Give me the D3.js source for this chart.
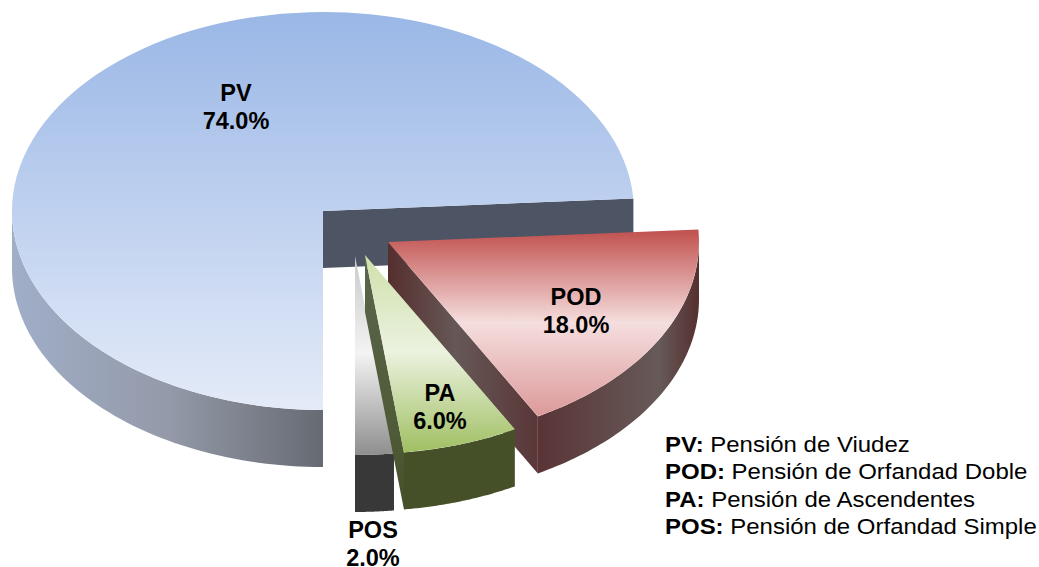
<!DOCTYPE html>
<html>
<head>
<meta charset="utf-8">
<script src="https://cdn.jsdelivr.net/npm/d3@7"></script>
<style>
  html, body { margin: 0; padding: 0; background: #fff; }
  svg { display: block; }
  text { font-family: "Liberation Sans", Arial, sans-serif; fill: #000; }
</style>
</head>
<body>
<div id="chart"></div>
<script>
var categories = ["PV", "POD", "PA", "POS"];
var values = [74.0, 18.0, 6.0, 2.0];
var fullNames = ["Pensión de Viudez", "Pensión de Orfandad Doble", "Pensión de Ascendentes", "Pensión de Orfandad Simple"];

var width = 1039, height = 567;
var rx = 311, ry = 199, depth = 57;

// where each slice's apex ends up once exploded
var apex = { PV: [323, 211], POD: [388, 242], PA: [365, 255], POS: [355, 256] };
var labelPos = { PV: [236, 101], POD: [576, 305], PA: [440, 401], POS: [373, 538] };

var topStops = {
  PV:  [[0, "#9ab7e6"], [1, "#e4ebf8"]],
  POD: [[0, "#c0504d"], [0.5, "#f5dede"], [1, "#dc9999"]],
  PA:  [[0, "#cfe0ab"], [0.49, "#ebf2df"], [1, "#a0bf62"]],
  POS: [[0, "#c9c9c9"], [0.49, "#f3f3f3"], [1, "#8e8e8e"]]
};
var wallStops = {
  PV:  [[0, "#a0aec8"], [0.5, "#949aa9"], [1, "#666a72"]],
  POD: [[0, "#5a3436"], [0.75, "#665a58"], [1, "#552f2f"]],
  PA:  [[0, "#454f28"], [1, "#454f28"]],
  POS: [[0, "#383838"], [1, "#383838"]]
};
var sideStops = {
  POD: [[0, "#562e2e"], [0.45, "#655856"], [1, "#5a3638"]],
  PA:  [[0, "#5a664c"], [0.7, "#4f5a38"], [1, "#454f28"]]
};

var svg = d3.select("#chart").append("svg")
  .attr("width", width).attr("height", height);
var defs = svg.append("defs");

function addGradient(id, stops, horizontal) {
  var g = defs.append("linearGradient").attr("id", id)
    .attr("x1", 0).attr("y1", 0)
    .attr("x2", horizontal ? 1 : 0).attr("y2", horizontal ? 0 : 1);
  stops.forEach(function(s) {
    g.append("stop").attr("offset", s[0]).attr("stop-color", s[1]);
  });
}
categories.forEach(function(c) {
  addGradient("top-" + c, topStops[c], false);
  addGradient("wall-" + c, wallStops[c], true);
  if (sideStops[c]) addGradient("side-" + c, sideStops[c], c == "POD");
});

var pie = d3.pie().sort(null).startAngle(Math.PI).endAngle(3 * Math.PI);
var slices = pie(values).map(function(d, i) {
  d.name = categories[i];
  return d;
});

var arc = d3.arc().innerRadius(0).outerRadius(1);
var line = d3.line();

function rimPoint(a) {
  return [rx * Math.sin(a), -ry * Math.cos(a)];
}

// outer wall, only the part of the rim that faces the viewer
function wallPath(d) {
  var off = d.startAngle >= 2 * Math.PI ? 2 * Math.PI : 0;
  var lo = Math.max(d.startAngle - off, Math.PI / 2);
  var hi = Math.min(d.endAngle - off, 3 * Math.PI / 2);
  var upper = d3.range(0, 61).map(function(k) { return rimPoint(lo + (hi - lo) * k / 60); });
  var lower = upper.slice().reverse().map(function(p) { return [p[0], p[1] + depth]; });
  return line(upper.concat(lower)) + "Z";
}

function cutPath(a) {
  var p = rimPoint(a);
  return line([[0, 0], p, [p[0], p[1] + depth], [0, depth]]) + "Z";
}

// back to front
var order = ["PV", "POS", "POD", "PA"];
order.forEach(function(name) {
  var d = slices.find(function(s) { return s.name == name; });
  var g = svg.append("g")
    .attr("transform", "translate(" + apex[name][0] + "," + apex[name][1] + ")");

  if (name == "PV") {
    // inner wall seen through the missing wedge
    g.append("path").attr("d", cutPath(d.endAngle)).attr("fill", "#4d5463");
  }
  if (name == "POD") {
    g.append("path").attr("d", cutPath(d.endAngle)).attr("fill", "url(#side-POD)");
  }
  if (name == "PA") {
    g.append("path").attr("d", cutPath(d.endAngle)).attr("fill", "url(#side-PA)");
  }
  g.append("path").attr("d", wallPath(d)).attr("fill", "url(#wall-" + name + ")");
  g.append("path")
    .attr("d", arc(d))
    .attr("transform", "scale(" + rx + "," + ry + ")")
    .attr("fill", "url(#top-" + name + ")");
});

// slice labels
slices.forEach(function(d) {
  var t = svg.append("text")
    .attr("x", labelPos[d.name][0]).attr("y", labelPos[d.name][1])
    .attr("text-anchor", "middle")
    .attr("font-size", 23.5).attr("font-weight", "bold");
  t.append("tspan").attr("x", labelPos[d.name][0]).text(d.name);
  t.append("tspan").attr("x", labelPos[d.name][0]).attr("dy", 28)
    .text(d3.format(".1f")(d.value) + "%");
});

// legend, the original text is a little stretched sideways
var legend = svg.append("g").attr("transform", "translate(665,452) scale(1.09,1)");
categories.forEach(function(c, i) {
  var t = legend.append("text").attr("y", i * 27.5).attr("font-size", 22);
  t.append("tspan").attr("font-weight", "bold").text(c + ":");
  t.append("tspan").text(" " + fullNames[i]);
});
</script>
</body>
</html>
